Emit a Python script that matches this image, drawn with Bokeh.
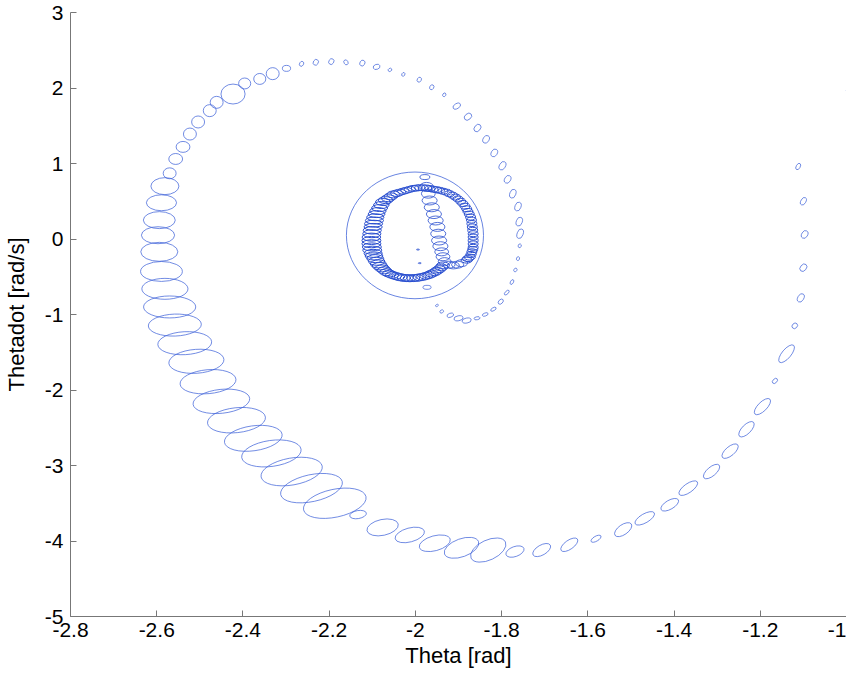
from bokeh.plotting import figure
from bokeh.models import Range1d, FixedTicker
from bokeh.embed import file_html
from bokeh.resources import INLINE

# ---------------- data ----------------
# outer spiral of covariance ellipses: centre (theta, thetadot), size (theta units, thetadot units), tilt (deg)
outer_theta = [-1.112, -1.100, -1.097, -1.100, -1.106, -1.120, -1.139, -1.166, -1.195, -1.232,
               -1.270, -1.313, -1.367, -1.410, -1.468, -1.518, -1.581, -1.643, -1.707, -1.769,
               -1.831, -1.893, -1.955, -2.013, -2.076, -2.133, -2.187, -2.241, -2.287, -2.334,
               -2.376, -2.415, -2.450, -2.481, -2.508, -2.535, -2.558, -2.570, -2.581, -2.589,
               -2.594, -2.597, -2.594, -2.589, -2.581, -2.570, -2.556, -2.539, -2.523, -2.504,
               -2.477, -2.461, -2.423, -2.396, -2.361, -2.331, -2.299, -2.264, -2.231, -2.195,
               -2.161, -2.123, -2.090, -2.059, -2.028, -1.991, -1.962, -1.933, -1.904, -1.878,
               -1.856, -1.836, -1.817, -1.798, -1.786, -1.774, -1.762, -1.759, -1.757, -1.758,
               -1.762, -1.768, -1.776, -1.788, -1.802, -1.819, -1.838, -1.857, -1.881, -1.900,
               -1.919, -1.939, -1.950, -1.973, -0.997]
outer_thetadot = [0.96, 0.50, 0.06, -0.38, -0.78, -1.15, -1.52, -1.88, -2.22, -2.52,
                  -2.81, -3.08, -3.30, -3.52, -3.70, -3.85, -3.97, -4.05, -4.12, -4.14,
                  -4.12, -4.09, -4.03, -3.92, -3.82, -3.65, -3.50, -3.30, -3.08, -2.84,
                  -2.64, -2.40, -2.15, -1.89, -1.62, -1.38, -1.14, -0.90, -0.66, -0.43,
                  -0.17, 0.05, 0.25, 0.48, 0.70, 0.87, 1.06, 1.22, 1.39, 1.55,
                  1.70, 1.81, 1.92, 2.06, 2.12, 2.19, 2.26, 2.32, 2.34, 2.35,
                  2.34, 2.33, 2.28, 2.24, 2.18, 2.11, 2.01, 1.91, 1.76, 1.62,
                  1.47, 1.32, 1.14, 0.97, 0.79, 0.60, 0.43, 0.23, 0.07, -0.09,
                  -0.26, -0.41, -0.57, -0.71, -0.83, -0.93, -1.00, -1.05, -1.08, -1.05,
                  -1.01, -0.96, -0.88, -0.64, 1.97]
outer_w = [0.016, 0.019, 0.019, 0.019, 0.021, 0.014, 0.051, 0.014, 0.049, 0.046,
           0.046, 0.046, 0.051, 0.046, 0.051, 0.046, 0.026, 0.046, 0.046, 0.044,
           0.088, 0.084, 0.074, 0.070, 0.074, 0.039, 0.148, 0.146, 0.144, 0.139,
           0.135, 0.135, 0.132, 0.130, 0.128, 0.125, 0.123, 0.121, 0.107, 0.097,
           0.086, 0.077, 0.074, 0.070, 0.065, 0.030, 0.032, 0.032, 0.030, 0.030,
           0.030, 0.030, 0.056, 0.028, 0.028, 0.030, 0.019, 0.012, 0.014, 0.014,
           0.012, 0.014, 0.016, 0.009, 0.009, 0.012, 0.012, 0.009, 0.019, 0.019,
           0.019, 0.019, 0.019, 0.021, 0.019, 0.021, 0.021, 0.021, 0.023, 0.009,
           0.009, 0.009, 0.012, 0.014, 0.014, 0.014, 0.014, 0.014, 0.021, 0.021,
           0.016, 0.009, 0.007, 0.019, 0.007]
outer_h = [0.053, 0.066, 0.079, 0.079, 0.079, 0.066, 0.119, 0.053, 0.119, 0.119,
           0.119, 0.119, 0.119, 0.119, 0.119, 0.132, 0.066, 0.119, 0.132, 0.132,
           0.264, 0.238, 0.198, 0.185, 0.211, 0.106, 0.370, 0.357, 0.357, 0.344,
           0.330, 0.330, 0.317, 0.317, 0.317, 0.304, 0.291, 0.291, 0.277, 0.264,
           0.251, 0.225, 0.225, 0.211, 0.225, 0.145, 0.145, 0.145, 0.159, 0.159,
           0.159, 0.159, 0.264, 0.145, 0.145, 0.159, 0.079, 0.053, 0.066, 0.066,
           0.053, 0.066, 0.066, 0.040, 0.040, 0.053, 0.053, 0.040, 0.066, 0.079,
           0.079, 0.079, 0.079, 0.079, 0.079, 0.079, 0.079, 0.079, 0.079, 0.040,
           0.040, 0.040, 0.040, 0.040, 0.053, 0.040, 0.040, 0.040, 0.066, 0.066,
           0.053, 0.040, 0.026, 0.053, 0.026]
outer_tilt = [60, 60, 60, 50, 60, 45, 50, 45, 45, 45,
              40, 40, 35, 30, 30, 35, 30, 35, 30, 20,
              25, 20, 15, 15, 12, 10, 12, 12, 10, 8,
              8, 6, 6, 5, 4, 3, 2, 0, 0, 0,
              0, 0, 0, 0, 0, 0, 0, 0, 0, 0,
              0, 0, 0, 0, 0, 0, 0, 60, 60, 60,
              120, 60, 20, 30, 60, 60, 60, 60, 30, 40,
              50, 60, 60, 60, 60, 70, 70, 70, 70, 70,
              70, 60, 60, 45, 45, 30, 20, 10, 10, 10,
              20, 30, 30, 0, 0]

# dense inner ring of ellipses around (-2, 0)
ring_theta = [-1.928, -1.936, -1.944, -1.951, -1.959, -1.966, -1.974, -1.982, -1.990, -1.997,
              -2.005, -2.013, -2.021, -2.028, -2.036, -2.043, -2.051, -2.057, -2.063, -2.069,
              -2.075, -2.079, -2.083, -2.087, -2.090, -2.093, -2.095, -2.097, -2.098, -2.100,
              -2.101, -2.102, -2.102, -2.102, -2.101, -2.100, -2.098, -2.096, -2.093, -2.090,
              -2.086, -2.082, -2.077, -2.072, -2.067, -2.061, -2.054, -2.047, -2.040, -2.034,
              -2.027, -2.020, -2.013, -2.005, -1.997, -1.990, -1.982, -1.975, -1.968, -1.962,
              -1.955, -1.950, -1.945, -1.940, -1.936, -1.881, -1.878, -1.874, -1.871, -1.869,
              -1.867, -1.866, -1.866, -1.866, -1.866, -1.866, -1.867, -1.868, -1.869, -1.870,
              -1.872, -1.875, -1.878, -1.881, -1.885, -1.890, -1.895, -1.901, -1.907, -1.914,
              -1.921]
ring_thetadot = [0.620, 0.633, 0.645, 0.653, 0.660, 0.668, 0.675, 0.678, 0.680, 0.675,
                 0.670, 0.658, 0.645, 0.633, 0.620, 0.605, 0.590, 0.565, 0.540, 0.515,
                 0.490, 0.450, 0.410, 0.370, 0.330, 0.288, 0.245, 0.203, 0.160, 0.115,
                 0.070, 0.025, -0.020, -0.063, -0.105, -0.148, -0.190, -0.225, -0.260, -0.295,
                 -0.330, -0.360, -0.390, -0.415, -0.440, -0.458, -0.475, -0.488, -0.500, -0.508,
                 -0.515, -0.518, -0.520, -0.518, -0.515, -0.508, -0.500, -0.488, -0.475, -0.458,
                 -0.440, -0.420, -0.400, -0.375, -0.350, -0.280, -0.260, -0.240, -0.205, -0.170,
                 -0.140, -0.110, -0.065, -0.020, 0.025, 0.070, 0.115, 0.160, 0.205, 0.250,
                 0.290, 0.330, 0.365, 0.400, 0.435, 0.470, 0.500, 0.530, 0.555, 0.580,
                 0.600]
ring_w = [0.023, 0.023, 0.023, 0.023, 0.023, 0.023, 0.023, 0.023, 0.023, 0.025,
          0.026, 0.026, 0.026, 0.027, 0.028, 0.029, 0.030, 0.031, 0.032, 0.034,
          0.035, 0.036, 0.037, 0.038, 0.039, 0.040, 0.042, 0.042, 0.042, 0.042,
          0.042, 0.043, 0.044, 0.044, 0.044, 0.044, 0.042, 0.041, 0.039, 0.038,
          0.037, 0.036, 0.035, 0.033, 0.032, 0.031, 0.030, 0.030, 0.030, 0.030,
          0.030, 0.030, 0.030, 0.030, 0.030, 0.030, 0.030, 0.030, 0.030, 0.030,
          0.030, 0.030, 0.030, 0.030, 0.030, 0.026, 0.026, 0.026, 0.024, 0.023,
          0.023, 0.023, 0.023, 0.023, 0.023, 0.023, 0.023, 0.023, 0.023, 0.023,
          0.023, 0.023, 0.023, 0.023, 0.023, 0.023, 0.023, 0.023, 0.023, 0.023,
          0.023]
ring_h = [0.079, 0.079, 0.079, 0.079, 0.079, 0.079, 0.079, 0.079, 0.079, 0.079,
          0.079, 0.079, 0.079, 0.079, 0.079, 0.085, 0.092, 0.092, 0.092, 0.092,
          0.092, 0.092, 0.092, 0.092, 0.092, 0.092, 0.092, 0.092, 0.092, 0.099,
          0.106, 0.106, 0.106, 0.106, 0.106, 0.106, 0.106, 0.106, 0.106, 0.106,
          0.106, 0.099, 0.092, 0.092, 0.092, 0.092, 0.092, 0.092, 0.092, 0.092,
          0.092, 0.092, 0.092, 0.092, 0.092, 0.092, 0.092, 0.092, 0.092, 0.092,
          0.092, 0.092, 0.092, 0.092, 0.092, 0.079, 0.079, 0.079, 0.079, 0.079,
          0.079, 0.079, 0.079, 0.079, 0.079, 0.079, 0.079, 0.079, 0.079, 0.079,
          0.079, 0.079, 0.079, 0.079, 0.079, 0.079, 0.079, 0.079, 0.079, 0.079,
          0.079]

# inner column of larger ellipses inside the ring
col_theta = [-1.978, -1.974, -1.970, -1.967, -1.962, -1.957, -1.953, -1.949, -1.947, -1.945,
             -1.942, -1.939, -1.936, -1.932, -1.922, -1.912, -1.902, -1.893, -1.994, -1.990]
col_thetadot = [0.82, 0.69, 0.60, 0.51, 0.42, 0.33, 0.245, 0.16, 0.07, -0.02,
                -0.095, -0.17, -0.235, -0.30, -0.34, -0.35, -0.34, -0.32, -0.14, -0.32]
col_w = [0.023, 0.032, 0.032, 0.035, 0.035, 0.035, 0.035, 0.035, 0.035, 0.035,
         0.035, 0.032, 0.032, 0.030, 0.028, 0.028, 0.028, 0.028, 0.007, 0.007]
col_h = [0.066, 0.119, 0.119, 0.119, 0.119, 0.119, 0.119, 0.119, 0.119, 0.119,
         0.119, 0.106, 0.106, 0.106, 0.092, 0.092, 0.092, 0.092, 0.013, 0.013]

# large initial covariance ellipse
init_theta = [-2.001]
init_thetadot = [0.048]
init_w = [0.318]
init_h = [1.678]

x_ticks = [-2.8, -2.6, -2.4, -2.2, -2.0, -1.8, -1.6, -1.4, -1.2, -1.0]
x_labels = ["-2.8", "-2.6", "-2.4", "-2.2", "-2", "-1.8", "-1.6", "-1.4", "-1.2", "-1"]
y_ticks = [-5, -4, -3, -2, -1, 0, 1, 2, 3]
y_labels = ["-5", "-4", "-3", "-2", "-1", "0", "1", "2", "3"]

# ---------------- figure ----------------
FONT = "Liberation Sans"
LINE = "#3a5fd8"
DARK = "#2a4fd0"

p = figure(frame_width=776, frame_height=604,
           x_range=Range1d(-2.8, -1.0), y_range=Range1d(-5, 3),
           min_border_left=65, min_border_top=12, min_border_right=0, min_border_bottom=10,
           output_backend="svg", toolbar_location=None)
p.outline_line_color = None
p.grid.visible = False
p.background_fill_color = "white"

p.ellipse(x=init_theta, y=init_thetadot, width=init_w, height=init_h,
          fill_color=None, line_color=LINE, line_width=0.9, line_alpha=0.85)
p.ellipse(x=outer_theta, y=outer_thetadot, width=outer_w, height=outer_h,
          angle=outer_tilt, angle_units="deg",
          fill_color=None, line_color=LINE, line_width=0.9, line_alpha=0.8)
p.ellipse(x=ring_theta, y=ring_thetadot, width=ring_w, height=ring_h,
          fill_color=None, line_color=DARK, line_width=1.0)
p.ellipse(x=col_theta, y=col_thetadot, width=col_w, height=col_h,
          fill_color=None, line_color=DARK, line_width=0.9, line_alpha=0.9)

p.xaxis.ticker = FixedTicker(ticks=x_ticks)
p.yaxis.ticker = FixedTicker(ticks=y_ticks)
p.xaxis.major_label_overrides = {t: l for t, l in zip(x_ticks, x_labels)}
p.yaxis.major_label_overrides = {t: l for t, l in zip(y_ticks, y_labels)}

p.xaxis.axis_label = "Theta [rad]"
p.yaxis.axis_label = "Thetadot [rad/s]"

for ax in (p.xaxis[0], p.yaxis[0]):
    ax.axis_line_color = "#777777"
    ax.axis_line_width = 1
    ax.major_tick_line_color = "#777777"
    ax.major_tick_in = 6
    ax.major_tick_out = 0
    ax.minor_tick_line_color = None
    ax.major_label_text_font = FONT
    ax.major_label_text_font_size = "21px"
    ax.major_label_text_color = "black"
    ax.axis_label_text_font = FONT
    ax.axis_label_text_font_size = "22px"
    ax.axis_label_text_font_style = "normal"
    ax.axis_label_text_color = "black"

p.xaxis.major_label_standoff = 6
p.xaxis.axis_label_standoff = 3
p.yaxis.major_label_standoff = 7
p.yaxis.axis_label_standoff = 13

open("out.html", "w").write(file_html(p, INLINE))
